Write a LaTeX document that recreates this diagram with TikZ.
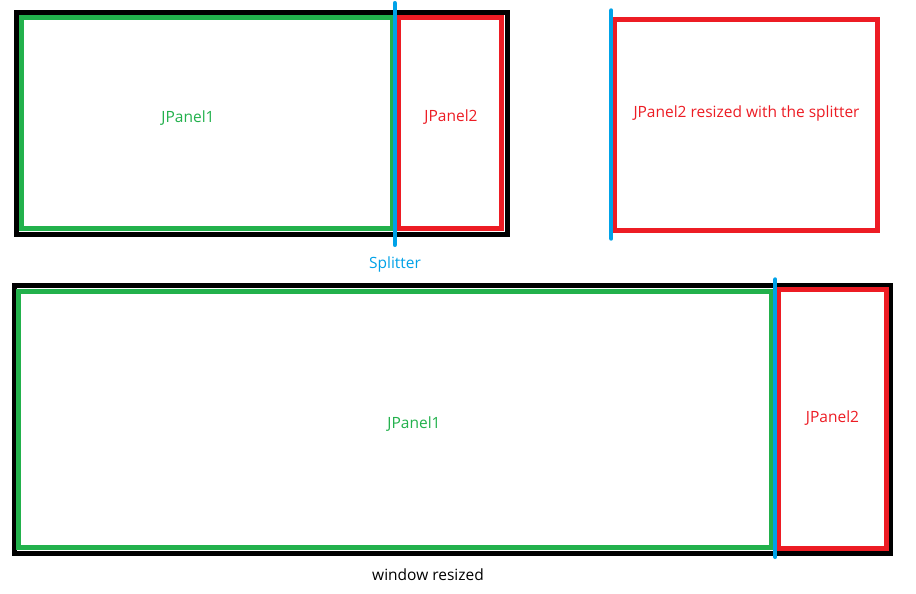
\documentclass[tikz,border=0pt]{standalone}
\usepackage{fontspec}
\setmainfont{Open Sans}
\definecolor{pgreen}{HTML}{22B14C}
\definecolor{pred}{HTML}{ED1C24}
\definecolor{pblue}{HTML}{00A2E8}
\begin{document}
\begin{tikzpicture}[x=1pt,y=-1pt,
  winbox/.style={draw=black,line width=5pt},
  gbox/.style={draw=pgreen,line width=5pt},
  rbox/.style={draw=pred,line width=5pt},
  splitline/.style={draw=pblue,line width=4pt,line cap=round},
  lbl/.style={font=\fontsize{15.5}{18}\selectfont,inner sep=0pt,anchor=center}]
\useasboundingbox[fill=white] (0,0) rectangle (916,594);
% top left window
\draw[winbox] (16,12.5) rectangle (507.5,234.5);
\draw[gbox] (21.3,18) rectangle (392,228.3);
\draw[rbox] (398.5,18) rectangle (501.5,228.3);
\coordinate (s1a) at (394.7,3);
\coordinate (s1b) at (394.7,245);
\draw[splitline] (s1a) -- (s1b);
\node[lbl,text=pgreen] (p1a) at (188,118.5) {JPanel1};
\node[lbl,text=pred] (p2a) at (451,117.5) {JPanel2};
\node[lbl,text=pblue] (spl) at (395,264.5) {Splitter};
% top right
\draw[rbox] (614.5,19.8) rectangle (877.5,230.3);
\coordinate (s2a) at (611.3,10.3);
\coordinate (s2b) at (611.3,238.7);
\draw[splitline] (s2a) -- (s2b);
\node[lbl,text=pred] (p2r) at (746.5,113.2) {JPanel2 resized with the splitter};
% bottom window
\draw[winbox] (14.3,285.8) rectangle (890,553.3);
\draw[gbox] (18.5,291.5) rectangle (771,547.5);
\draw[rbox] (778,289) rectangle (886.5,548.5);
\coordinate (s3a) at (775.3,279.3);
\coordinate (s3b) at (775.3,557);
\draw[splitline] (s3a) -- (s3b);
\node[lbl,text=pgreen] (p1b) at (414,424.5) {JPanel1};
\node[lbl,text=pred] (p2b) at (832.5,418.2) {JPanel2};
\node[lbl,text=black] (wr) at (428,574.5) {window resized};
\end{tikzpicture}
\end{document}
